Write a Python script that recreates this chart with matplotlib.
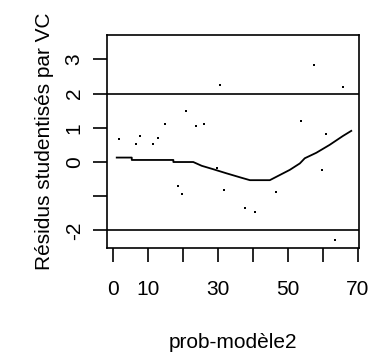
import matplotlib
matplotlib.use('Agg')
import matplotlib.pyplot as plt

plt.rcParams['font.family'] = ['Liberation Sans', 'DejaVu Sans']
plt.rcParams['axes.unicode_minus'] = False

# residus studentises (points)
x_pts = [1.7, 6.6, 7.7, 11.4, 12.7, 14.9, 18.5, 19.7, 20.8, 23.6, 25.9, 30.6,
         29.6, 31.8, 37.8, 40.5, 46.5, 53.6, 57.5, 59.7, 60.8, 63.5, 65.7]
y_pts = [0.66, 0.54, 0.77, 0.54, 0.71, 1.12, -0.70, -0.94, 1.48, 1.06, 1.12, 2.24,
         -0.17, -0.82, -1.35, -1.47, -0.89, 1.19, 2.84, -0.23, 0.83, -2.29, 2.18]

# courbe lissee
x_smooth = [1.0, 5.3, 5.3, 17.2, 17.2, 22.9, 25.3, 28.6, 32.4, 36.7, 39.1, 44.8,
            46.7, 50.5, 53.4, 54.8, 58.1, 61.9, 65.7, 68.1]
y_smooth = [0.13, 0.13, 0.06, 0.06, 0.0, 0.0, -0.11, -0.21, -0.33, -0.46, -0.53, -0.53,
            -0.43, -0.23, -0.04, 0.11, 0.27, 0.50, 0.76, 0.91]

x_ticks = [0, 10, 20, 30, 40, 50, 60, 70]
x_labels = ['0', '10', '', '30', '', '50', '', '70']
y_ticks = [-2, -1, 0, 1, 2, 3]
y_labels = ['-2', '', '0', '1', '2', '3']

fig = plt.figure(figsize=(3.85, 3.6), dpi=100)
ax = fig.add_axes([107.3 / 385, 1 - 248.3 / 360, (359.3 - 107.3) / 385, (248.3 - 35) / 360])

ax.plot(x_pts, y_pts, 's', ms=2.0, color='black', mew=0)
ax.plot(x_smooth, y_smooth, '-', color='black', lw=1.3)
ax.axhline(2, color='black', lw=1.2)
ax.axhline(-2, color='black', lw=1.2)

ax.set_xlim(-1.7, 70.4)
ax.set_ylim(-2.52, 3.71)
ax.set_xticks(x_ticks)
ax.set_xticklabels(x_labels)
ax.set_yticks(y_ticks)
ax.set_yticklabels(y_labels, rotation=90, va='center')

for s in ax.spines.values():
    s.set_linewidth(1.2)
ax.tick_params(axis='both', length=10, width=1.2, labelsize=15)
ax.tick_params(axis='x', pad=13)
ax.tick_params(axis='y', pad=7)

ax.set_xlabel('prob-modèle2', fontsize=15, labelpad=24)
ax.set_ylabel('Résidus studentisés par VC', fontsize=15, labelpad=8)

fig.savefig('out.png', dpi=100)
